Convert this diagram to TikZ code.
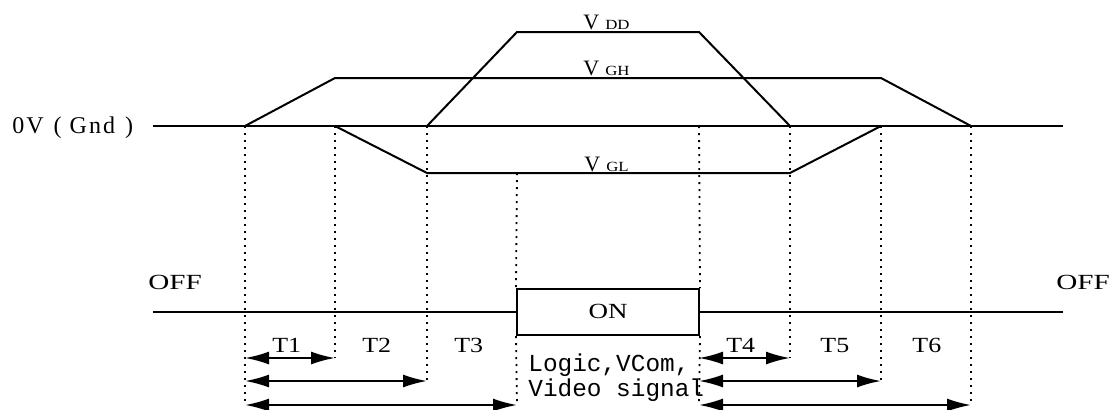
\documentclass[tikz,border=0pt]{standalone}
\usepackage{fontspec}
\setmainfont{Liberation Serif}
\newfontfamily\monofam{Liberation Mono}
\usetikzlibrary{arrows.meta}
\newcommand\sx[2]{\scalebox{#1}[1]{#2}}
\newcommand\vlab[1]{\fontsize{11}{13}\selectfont V\hspace{3pt}\sx{1.2}{\fontsize{7}{8}\selectfont #1}}
\tikzset{
  sig/.style={line width=1pt},
  guide/.style={line width=0.9pt, dash pattern=on 1.1pt off 2.4pt},
  dimarrow/.style={line width=1pt, {Latex[length=12pt,width=6.5pt]}-{Latex[length=12pt,width=6.5pt]}},
  lab/.style={inner sep=0pt, font=\fontsize{10.8}{12}\selectfont},
  mono/.style={inner sep=0pt, anchor=base west, font=\monofam\fontsize{12.2}{14}\selectfont},
  box/.style={draw, line width=1pt, inner sep=0pt}
}
\begin{document}
\begin{tikzpicture}[x=0.5pt,y=-0.5pt]
\useasboundingbox (0,0) rectangle (1118,409);
% key x positions
\foreach \n/\x in {a/245,b/335,c/427,d/517,e/699,f/790,g/881,h/971}{
  \coordinate (g\n) at (\x,126);
}
\coordinate (gndL) at (153,126);
\coordinate (gndR) at (1063,126);
\coordinate (ghb) at (335,78);
\coordinate (ghg) at (881,78);
\coordinate (glc) at (427,173);
\coordinate (glf) at (790,173);
\coordinate (gdd) at (517,32);
\coordinate (gde) at (699,32);
% ground line
\draw[sig] (gndL) -- (gndR);
% VGH
\draw[sig] (ga) -- (ghb) -- (ghg) -- (gh);
% VGL
\draw[sig] (gb) -- (glc) -- (glf) -- (gg);
% VDD
\draw[sig] (gc) -- (gdd) -- (gde) -- (gf);
% labels
\node[inner sep=0pt, anchor=base west, font=\fontsize{12}{14}\selectfont] (gndlab) at (12,133) {0\hspace{1pt}V\hspace{5pt}(\hspace{4pt}G\hspace{1pt}n\hspace{1pt}d\hspace{5pt})};
\node[inner sep=0pt, anchor=base west] (vdd) at (583,29) {\vlab{DD}};
\node[inner sep=0pt, anchor=base west] (vgh) at (583,75) {\vlab{GH}};
\node[inner sep=0pt, anchor=base west] (vgl) at (584,171) {\vlab{GL}};
% OFF / ON line
\node[box, minimum width=91pt, minimum height=23pt] (on) at (608,312) {};
\node[lab] (ontxt) at (608,311) {\sx{1.25}{ON}};
\coordinate (offL) at (153,312);
\coordinate (offR) at (1063,312);
\draw[line width=0.8pt] (offL) -- (on.west);
\draw[line width=0.8pt] (on.east) -- (offR);
\node[lab, anchor=base west] (off1) at (148,289) {\sx{1.35}{OFF}};
\node[lab, anchor=base west] (off2) at (1056,289) {\sx{1.35}{OFF}};
% logic text
\node[mono] (logic) at (528,371) {Logic,VCom,};
\node[mono] (video) at (528,396) {Video signal};
% guide coordinates
\coordinate (ba) at (245,405);
\coordinate (bb) at (335,358);
\coordinate (bc) at (427,381);
\coordinate (bd) at (517,405);
\coordinate (be) at (699,405);
\coordinate (bf) at (790,358);
\coordinate (bg) at (881,381);
\coordinate (bh) at (971,405);
\draw[guide] (ga) -- (ba);
\draw[guide] (gb) -- (bb);
\draw[guide] (gc) -- (bc);
\draw[guide] (glc -| gd) -- (on.north west);
\draw[guide] (on.south west) -- (bd);
\draw[guide] (ge) -- (on.north east);
\draw[guide] (on.south east) -- (be);
\draw[guide] (gf) -- (bf);
\draw[guide] (gg) -- (bg);
\draw[guide] (gh) -- (bh);
% arrows
\draw[dimarrow] (ba |- bb) -- (bb);
\draw[dimarrow] (ba |- bc) -- (bc);
\draw[dimarrow] (ba) -- (bd);
\draw[dimarrow] (be |- bf) -- (bf);
\draw[dimarrow] (be |- bg) -- (bg);
\draw[dimarrow] (be) -- (bh);
% T labels
\node[lab, anchor=base west] (t1) at (272,352) {\sx{1.2}{T1}};
\node[lab, anchor=base west] (t2) at (362,352) {\sx{1.2}{T2}};
\node[lab, anchor=base west] (t3) at (454,352) {\sx{1.2}{T3}};
\node[lab, anchor=base west] (t4) at (726,352) {\sx{1.2}{T4}};
\node[lab, anchor=base west] (t5) at (820,352) {\sx{1.2}{T5}};
\node[lab, anchor=base west] (t6) at (912,352) {\sx{1.2}{T6}};
\end{tikzpicture}
\end{document}
